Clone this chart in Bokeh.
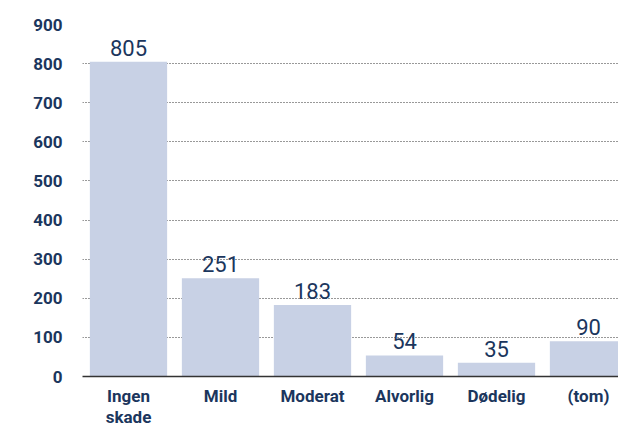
from bokeh.plotting import figure
from bokeh.models import ColumnDataSource, Range1d, FixedTicker, LabelSet
from bokeh.embed import file_html
from bokeh.resources import INLINE
from bokeh.core.properties import value

categories = ["Ingen skade", "Mild", "Moderat", "Alvorlig", "Dødelig", "(tom)"]
counts = [805, 251, 183, 54, 35, 90]
y_ticks = [0, 100, 200, 300, 400, 500, 600, 700, 800, 900]

navy = "#1b365d"
bar_color = "#c8d1e5"

xs = [i + 0.5 for i in range(len(categories))]
src = ColumnDataSource(dict(x=xs, top=counts, label=[str(c) for c in counts]))

p = figure(width=618, height=433, output_backend="svg", toolbar_location=None,
           x_range=Range1d(0, 536 / 92), y_range=Range1d(0, 900),
           min_border_left=82, min_border_right=0, min_border_top=24, min_border_bottom=57)
p.outline_line_color = None
p.background_fill_color = "white"

p.vbar(x="x", top="top", width=0.84, source=src, color=bar_color, line_color=None)

labels = LabelSet(x="x", y="top", text="label", source=src, text_align="center",
                  text_baseline="bottom", y_offset=6, text_color=navy,
                  text_font=value("Roboto"), text_font_size="22px")
p.add_layout(labels)

p.xgrid.grid_line_color = None
p.ygrid.grid_line_color = "#333333"
p.ygrid.grid_line_dash = "1 2"
p.ygrid.grid_line_width = 1
p.ygrid.ticker = FixedTicker(ticks=y_ticks[1:])

p.yaxis.ticker = FixedTicker(ticks=y_ticks)
p.yaxis.axis_line_color = None
p.yaxis.major_tick_line_color = None
p.yaxis.minor_tick_line_color = None
p.yaxis.major_label_text_font = "Roboto"
p.yaxis.major_label_text_font_style = "bold"
p.yaxis.major_label_text_font_size = "17px"
p.yaxis.major_label_text_color = navy
p.yaxis.major_label_standoff = 14

p.xaxis.ticker = FixedTicker(ticks=xs)
p.xaxis.major_label_overrides = {x: c.replace(" ", "\n") for x, c in zip(xs, categories)}
p.xaxis.axis_line_color = "#333333"
p.xaxis.axis_line_width = 1.5
p.xaxis.major_tick_line_color = None
p.xaxis.minor_tick_line_color = None
p.xaxis.major_label_text_font = "Roboto"
p.xaxis.major_label_text_font_style = "bold"
p.xaxis.major_label_text_font_size = "17px"
p.xaxis.major_label_text_line_height = 1.05
p.xaxis.major_label_text_color = navy
p.xaxis.major_label_standoff = 3

open("out.html", "w").write(file_html(p, INLINE))
